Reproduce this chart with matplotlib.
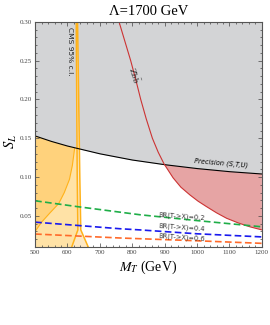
import matplotlib
matplotlib.use("Agg")
import matplotlib.pyplot as plt
import numpy as np

# precision (S,T,U) bound
prec_m = [500, 550, 600, 650, 700, 800, 900, 1000, 1100, 1200]
prec_s = [0.153, 0.146, 0.140, 0.135, 0.130, 0.122, 0.116, 0.111, 0.107, 0.104]

# Z b bbar bound
zbb_m = [759, 777, 795, 811, 826, 843, 862, 880, 898, 926, 950, 978, 1003,
         1029, 1060, 1091, 1127, 1163, 1200]
zbb_s = [0.30, 0.275, 0.25, 0.225, 0.20, 0.175, 0.150, 0.132, 0.117, 0.099,
         0.087, 0.077, 0.069, 0.062, 0.054, 0.047, 0.041, 0.036, 0.032]

# CMS 95% c.l. contour pieces
cms_m = [500, 520, 546, 573, 590, 606, 615, 622]
cms_s = [0.030, 0.042, 0.054, 0.066, 0.080, 0.097, 0.115, 0.137]
spike_l_m = [613, 632, 630, 627]
spike_l_s = [0.01, 0.032, 0.10, 0.30]
spike_r_m = [664, 641, 638, 631]
spike_r_s = [0.01, 0.032, 0.10, 0.30]

# BR(T->X) contours
br02_m = [500, 630, 824, 1000, 1200]
br02_s = [0.0695, 0.062, 0.0515, 0.044, 0.036]
br04_m = [500, 762, 824, 1000, 1200]
br04_s = [0.042, 0.0335, 0.032, 0.027, 0.023]
br06_m = [500, 762, 1000, 1200]
br06_s = [0.0267, 0.0216, 0.018, 0.0147]

plt.rcParams['font.family'] = ['Liberation Serif', 'DejaVu Serif']
plt.rcParams['mathtext.fontset'] = 'stix'

fig = plt.figure(figsize=(2.7, 3.25), dpi=100)
ax = fig.add_axes([0.130, 0.240, 0.840, 0.693])

# gray excluded by precision
ax.fill_between(prec_m, prec_s, 0.30, color='#d3d4d6', lw=0)

# light orange under precision line left of the spike
lo_m = [500, 613, 632, 630, 600, 550, 500]
lo_s = [0.01, 0.01, 0.032, 0.138, 0.140, 0.146, 0.153]
ax.fill(lo_m, lo_s, color='#ffe2a6', lw=0)

# darker orange region
d_m = cms_m + [600, 550, 500]
d_s = cms_s + [0.140, 0.146, 0.153]
ax.fill(d_m, d_s, color='#ffd27c', lw=0)

# tent + spike band
band_m = spike_l_m + spike_r_m[::-1]
band_s = spike_l_s + spike_r_s[::-1]
ax.fill(band_m, band_s, color='#fde8c4', lw=0)
ax.plot(spike_l_m, spike_l_s, color='#ffb21a', lw=1.1)
ax.plot(spike_r_m, spike_r_s, color='#ffb21a', lw=1.1)
ax.plot(cms_m, cms_s, color='#ffb21a', lw=0.8)

# red Zbb region
i0 = zbb_m.index(898)
r_m = zbb_m[i0:] + prec_m[::-1][:4]
r_s = zbb_s[i0:] + prec_s[::-1][:4]
ax.fill(r_m, r_s, color='#e6a4a4', lw=0)

ax.plot(prec_m, prec_s, color='black', lw=0.8)
ax.plot(zbb_m, zbb_s, color='#cc3333', lw=0.8)

ax.plot(br02_m, br02_s, color='#1fae48', lw=1.2, dashes=(4, 2))
ax.plot(br04_m, br04_s, color='#1a1aee', lw=1.2, dashes=(4, 2))
ax.plot(br06_m, br06_s, color='#ff6a2a', lw=1.2, dashes=(4, 2))

sans = ['DejaVu Sans']
ax.text(953, 0.050, 'BR(T->X)=0.2', fontsize=4.8, family=sans, color='#333333',
        rotation=-4, ha='center', va='center')
ax.text(953, 0.035, 'BR(T->X)=0.4', fontsize=4.8, family=sans, color='#333333',
        rotation=-4, ha='center', va='center')
ax.text(953, 0.022, 'BR(T->X)=0.6', fontsize=4.8, family=sans, color='#333333',
        rotation=-4, ha='center', va='center')
ax.text(1073, 0.118, 'Precision (S,T,U)', fontsize=4.8, family=sans, style='italic',
        color='black', rotation=-5, ha='center', va='center')
ax.text(609, 0.262, 'CMS 95% c.l.', fontsize=5.4, family=sans, color='#222222',
        rotation=-90, ha='center', va='center')
ax.text(806, 0.232, r'$\mathrm{Zb\bar{b}}$', fontsize=6.5, color='#222222',
        rotation=-74, ha='center', va='center')

ax.set_xlim(500, 1200)
ax.set_ylim(0.01, 0.30)
ax.set_xticks(np.arange(500, 1201, 100))
ax.set_yticks([0.05, 0.10, 0.15, 0.20, 0.25, 0.30])
ax.set_yticklabels(['0.05', '0.10', '0.15', '0.20', '0.25', '0.30'])
ax.set_xticks(np.arange(500, 1201, 20), minor=True)
ax.set_yticks(np.arange(0.01, 0.301, 0.01), minor=True)
ax.tick_params(which='both', direction='in', top=True, right=True,
               labelsize=5, colors='#444444', width=0.5, pad=2)
ax.tick_params(which='major', length=3)
ax.tick_params(which='minor', length=1.5)
for sp in ax.spines.values():
    sp.set_color('#555555')
    sp.set_linewidth(0.8)

ax.set_xlabel(r'$M_T$ (GeV)', fontsize=10, labelpad=3)
ax.set_ylabel(r'$S_L$', fontsize=10.5)
ax.yaxis.set_label_coords(-0.07, 0.47)
ax.set_title('Λ=1700 GeV', fontsize=10.5, pad=5)

fig.savefig('out.png', dpi=100)
